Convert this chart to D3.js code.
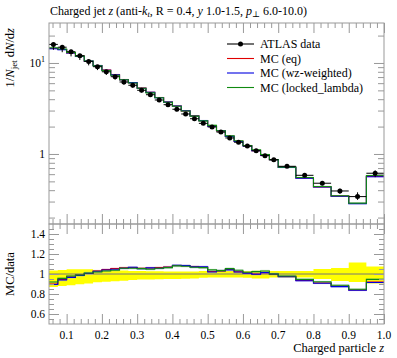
<!DOCTYPE html>
<html><head><meta charset="utf-8">
<script src="https://cdn.jsdelivr.net/npm/d3@7"></script>
<style>
body{margin:0;background:#fff;}
text{font-family:"Liberation Serif","DejaVu Serif",serif;fill:#000;}
</style></head>
<body><svg id="c" width="397" height="358"></svg>
<script>
// bin edges
const binEdges = [0.05,0.075,0.1,0.125,0.15,0.175,0.2,0.225,0.25,0.275,0.3,0.325,0.35,0.375,0.4,0.425,0.45,0.475,0.5,0.525,0.55,0.575,0.6,0.625,0.65,0.675,0.7,0.75,0.8,0.85,0.9,0.95,1.0];
// ATLAS data 1/N dN/dz
const dataVals = [16.0,14.9,13.3,12.0,10.4,9.1,8.0,7.07,6.18,5.69,5.01,4.48,3.92,3.48,3.10,2.75,2.44,2.17,1.98,1.74,1.50,1.345,1.22,1.087,0.958,0.866,0.732,0.583,0.477,0.392,0.340,0.614];
// data uncertainty band (relative)
const bandHi = [1.034,1.041,1.048,1.048,1.048,1.041,1.041,1.034,1.034,1.03,1.03,1.028,1.028,1.026,1.026,1.026,1.026,1.03,1.03,1.03,1.03,1.03,1.03,1.032,1.032,1.03,1.03,1.03,1.05,1.06,1.115,1.075];
const bandLo = [0.871,0.881,0.888,0.898,0.905,0.918,0.922,0.928,0.932,0.94,0.946,0.946,0.948,0.95,0.95,0.952,0.955,0.962,0.966,0.966,0.966,0.966,0.962,0.955,0.955,0.966,0.966,0.966,0.95,0.93,0.92,0.905];
// MC / data ratios
const ratioEq = [0.90,0.945,0.97,0.99,1.005,1.03,1.045,1.055,1.062,1.065,1.058,1.06,1.065,1.07,1.085,1.083,1.075,1.068,1.025,1.03,1.045,1.022,1.01,1.0,1.012,0.998,0.975,0.935,0.91,0.878,0.84,0.92];
const ratioWz = [0.895,0.94,0.966,0.986,1.007,1.027,1.04,1.047,1.058,1.068,1.054,1.061,1.058,1.068,1.088,1.085,1.071,1.071,1.02,1.034,1.041,1.02,1.007,0.997,1.014,1.0,0.973,0.932,0.908,0.874,0.837,0.915];
const ratioLocked = [0.92,0.956,0.98,0.99,1.01,1.02,1.03,1.037,1.058,1.058,1.054,1.047,1.058,1.064,1.081,1.078,1.068,1.064,1.041,1.034,1.054,1.037,1.017,1.024,1.03,1.0,0.98,0.946,0.922,0.888,0.847,0.946];
const seriesNames = ["MC (eq)","MC (wz-weighted)","MC (locked_lambda)"];
const seriesColors = ["#e00000","#0000e0","#108a10"];
const bandColors = ["#f4a0a0","#a0a0f4","#90c890"];
const xTickLabels = ["0.1","0.2","0.3","0.4","0.5","0.6","0.7","0.8","0.9","1.0"];
const ratioTickLabels = ["0.6","0.8","1","1.2","1.4"];

const svg = d3.select("#c");
const L=49, R=384, T=23, M=224, B=324;
const x = d3.scaleLinear().domain([0.05,1.0]).range([L,R]);
const y = d3.scaleLog().domain([0.17,27.5]).range([M,T]);
const yr = d3.scaleLinear().domain([0.5,1.5]).range([B,M]);
const nb = dataVals.length;
const bins = d3.range(nb).map(i=>({i, x0:binEdges[i], x1:binEdges[i+1], xc:(binEdges[i]+binEdges[i+1])/2, v:dataVals[i]}));
const ratios = [ratioEq, ratioWz, ratioLocked];
const mcVals = ratios.map(r=>r.map((q,i)=>q*dataVals[i]));

function stepPath(vals, sc){
  let p="";
  bins.forEach((b,i)=>{
    p += (i===0?"M":"L")+x(b.x0)+","+sc(vals[i])+"L"+x(b.x1)+","+sc(vals[i]);
  });
  return p;
}
function bandPath(hi, lo, sc){
  let p="";
  bins.forEach((b,i)=>{p+=(i===0?"M":"L")+x(b.x0)+","+sc(hi[i])+"L"+x(b.x1)+","+sc(hi[i]);});
  for(let i=nb-1;i>=0;i--){const b=bins[i];p+="L"+x(b.x1)+","+sc(lo[i])+"L"+x(b.x0)+","+sc(lo[i]);}
  return p+"Z";
}

svg.append("clipPath").attr("id","mc").append("rect").attr("x",L).attr("y",T).attr("width",R-L).attr("height",M-T);
svg.append("clipPath").attr("id","rc").append("rect").attr("x",L).attr("y",M).attr("width",R-L).attr("height",B-M);

// ---- ratio panel
const gr = svg.append("g").attr("clip-path","url(#rc)");
gr.append("path").attr("d",bandPath(bandHi,bandLo,yr)).attr("fill","#ffff00").attr("stroke","none");
gr.append("line").attr("x1",L).attr("x2",R).attr("y1",yr(1)).attr("y2",yr(1)).attr("stroke","#777").attr("stroke-width",1);
ratios.forEach((r,k)=>{
  gr.append("path").attr("d",bandPath(r.map(v=>v*1.012),r.map(v=>v*0.988),yr)).attr("fill",bandColors[k]).attr("opacity",0.35);
});
ratios.forEach((r,k)=>{
  gr.append("path").attr("d",stepPath(r,yr)).attr("fill","none").attr("stroke",seriesColors[k]).attr("stroke-width",1.1);
});

// ---- main panel
const gm = svg.append("g").attr("clip-path","url(#mc)");
mcVals.forEach((r,k)=>{
  gm.append("path").attr("d",bandPath(r.map(v=>v*1.02),r.map(v=>v*0.98),y)).attr("fill",bandColors[k]).attr("opacity",0.35);
});
mcVals.forEach((r,k)=>{
  gm.append("path").attr("d",stepPath(r,y)).attr("fill","none").attr("stroke",seriesColors[k]).attr("stroke-width",1.1);
});
// data points
const gd = gm.append("g");
gd.selectAll("line.xe").data(bins).join("line").attr("x1",b=>x(b.x0)).attr("x2",b=>x(b.x1)).attr("y1",b=>y(b.v)).attr("y2",b=>y(b.v)).attr("stroke","#000").attr("stroke-width",1);
gd.selectAll("line.ye").data(bins).join("line").attr("x1",b=>x(b.xc)).attr("x2",b=>x(b.xc)).attr("y1",b=>y(b.v*bandHi[b.i])).attr("y2",b=>y(b.v*bandLo[b.i])).attr("stroke","#000").attr("stroke-width",1);
gd.selectAll("circle").data(bins).join("circle").attr("cx",b=>x(b.xc)).attr("cy",b=>y(b.v)).attr("r",2.5).attr("fill","#000");

// ---- frames and ticks
const frameCol="#999";
function ticks(g){g.select(".domain").remove(); g.selectAll("line").attr("stroke",frameCol);}
const xMajor = d3.range(1,11).map(i=>i/10);
const xMinor = d3.range(3,50).map(i=>i/50).filter(v=>v>0.05&&v<1.0&&Math.abs(v*10-Math.round(v*10))>1e-6);
[[M,T],[B,M]].forEach(([bot,top])=>{
  svg.append("g").attr("transform",`translate(0,${bot})`).call(d3.axisBottom(x).tickValues(xMajor).tickSize(-10).tickFormat("")).call(ticks);
  svg.append("g").attr("transform",`translate(0,${bot})`).call(d3.axisBottom(x).tickValues(xMinor).tickSize(-5).tickFormat("")).call(ticks);
  svg.append("g").attr("transform",`translate(0,${top})`).call(d3.axisTop(x).tickValues(xMajor).tickSize(-10).tickFormat("")).call(ticks);
  svg.append("g").attr("transform",`translate(0,${top})`).call(d3.axisTop(x).tickValues(xMinor).tickSize(-5).tickFormat("")).call(ticks);
});
const yMajor=[1,10];
const yMinor=[0.2,0.3,0.4,0.5,0.6,0.7,0.8,0.9,2,3,4,5,6,7,8,9,20];
[[L,d3.axisLeft],[R,d3.axisRight]].forEach(([px,ax])=>{
  svg.append("g").attr("transform",`translate(${px},0)`).call(ax(y).tickValues(yMajor).tickSize(-10).tickFormat("")).call(ticks);
  svg.append("g").attr("transform",`translate(${px},0)`).call(ax(y).tickValues(yMinor).tickSize(-6).tickFormat("")).call(ticks);
  svg.append("g").attr("transform",`translate(${px},0)`).call(ax(yr).tickValues([0.6,0.8,1,1.2,1.4]).tickSize(-10).tickFormat("")).call(ticks);
  svg.append("g").attr("transform",`translate(${px},0)`).call(ax(yr).tickValues(d3.range(11,30).map(i=>i*0.05).filter(v=>Math.abs(v*5-Math.round(v*5))>1e-6)).tickSize(-5).tickFormat("")).call(ticks);
});
svg.append("rect").attr("x",L).attr("y",T).attr("width",R-L).attr("height",M-T).attr("fill","none").attr("stroke",frameCol);
svg.append("rect").attr("x",L).attr("y",M).attr("width",R-L).attr("height",B-M).attr("fill","none").attr("stroke",frameCol);

// ---- labels
const fs=11.5;
svg.selectAll("text.xt").data(xMajor).join("text").attr("x",d=>x(d)).attr("y",339).attr("text-anchor","middle").attr("font-size",fs).text((d,i)=>xTickLabels[i]);
svg.selectAll("text.rt").data([0.6,0.8,1,1.2,1.4]).join("text").attr("x",L-4).attr("y",d=>yr(d)+4).attr("text-anchor","end").attr("font-size",fs).text((d,i)=>ratioTickLabels[i]);
const t10 = svg.append("text").attr("x",L-4).attr("y",y(10)+4).attr("text-anchor","end").attr("font-size",fs);
t10.append("tspan").text("10");
t10.append("tspan").attr("dy",-4.5).attr("font-size",8).text("1");
svg.append("text").attr("x",L-4).attr("y",y(1)+4).attr("text-anchor","end").attr("font-size",fs).text("1");

const title = svg.append("text").attr("x",50).attr("y",15).attr("font-size",12);
title.append("tspan").text("Charged jet ");
title.append("tspan").attr("font-style","italic").text("z");
title.append("tspan").text(" (anti-");
title.append("tspan").attr("font-style","italic").text("k");
title.append("tspan").attr("font-style","italic").attr("font-size",8.5).attr("dy",2).text("t");
title.append("tspan").attr("dy",-2).text(", R = 0.4, ");
title.append("tspan").attr("font-style","italic").text("y");
title.append("tspan").text(" 1.0-1.5, ");
title.append("tspan").attr("font-style","italic").text("p");
title.append("tspan").attr("font-size",8.5).attr("dy",2).text("⊥");
title.append("tspan").attr("dy",-2).text(" 6.0-10.0)");

const yl = svg.append("text").attr("transform","translate(14,28) rotate(-90)").attr("text-anchor","end").attr("font-size",12.5);
yl.append("tspan").text("1/");
yl.append("tspan").attr("font-style","italic").text("N");
yl.append("tspan").attr("font-size",9).attr("dy",2.5).text("jet");
yl.append("tspan").attr("dy",-2.5).text(" d");
yl.append("tspan").attr("font-style","italic").text("N");
yl.append("tspan").text("/d");
yl.append("tspan").attr("font-style","italic").text("z");

svg.append("text").attr("transform",`translate(14,${yr(1)}) rotate(-90)`).attr("text-anchor","middle").attr("font-size",12.5).text("MC/data");
const xl = svg.append("text").attr("x",R).attr("y",352).attr("text-anchor","end").attr("font-size",12.5);
xl.append("tspan").text("Charged particle ");
xl.append("tspan").attr("font-style","italic").text("z");

// ---- legend
const legNames = ["ATLAS data"].concat(seriesNames);
const legColors = ["#000"].concat(seriesColors);
const lg = svg.append("g");
legNames.forEach((n,i)=>{
  const yy = 44 + i*14.5;
  lg.append("line").attr("x1",227).attr("x2",254).attr("y1",yy).attr("y2",yy).attr("stroke",legColors[i]).attr("stroke-width",1.1);
  if(i===0) lg.append("circle").attr("cx",240.5).attr("cy",yy).attr("r",2.5).attr("fill","#000");
  lg.append("text").attr("x",260).attr("y",yy+4).attr("font-size",12).text(n);
});
</script></body></html>
